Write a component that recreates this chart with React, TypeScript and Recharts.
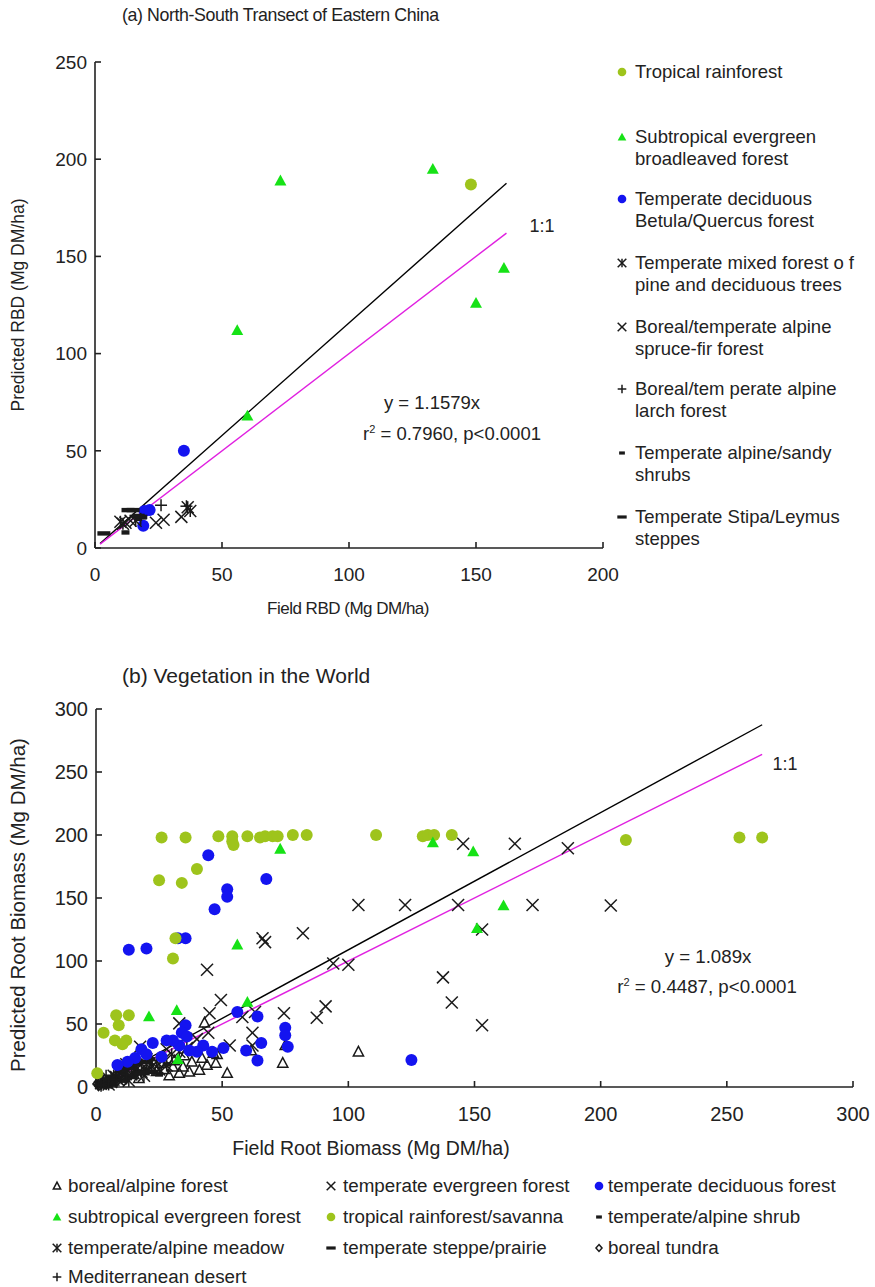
import React from "react";
import { ScatterChart, Scatter, XAxis, YAxis, ReferenceLine } from "recharts";

const FONT = '"Liberation Sans", Arial, Helvetica, sans-serif';
const YG = "#9ec41c";
const GREEN = "#16e216";
const BLUE = "#1414f0";
const MAGENTA = "#e020e0";
const INK = "#1a1a1a";

// ---- panel (a): North-South Transect of Eastern China ----
const aTicksX = [0, 50, 100, 150, 200];
const aTicksY = [0, 50, 100, 150, 200, 250];
const aTropical = [{ x: 148, y: 187 }];
const aSubtropical = [
  { x: 56, y: 112 }, { x: 60, y: 68 }, { x: 73, y: 189 },
  { x: 133, y: 195 }, { x: 150, y: 126 }, { x: 161, y: 144 },
];
const aDeciduous = [{ x: 35, y: 50 }, { x: 21.5, y: 19.5 }, { x: 19.5, y: 19 }, { x: 19, y: 11.5 }];
const aMixed = [{ x: 36.5, y: 21 }, { x: 37.5, y: 19 }, { x: 10, y: 13.5 }, { x: 11, y: 12.5 }, { x: 16, y: 14 }];
const aSpruce = [{ x: 24, y: 13 }, { x: 27, y: 14.5 }, { x: 34, y: 16 }, { x: 12, y: 13 }, { x: 14, y: 14 }];
const aLarch = [{ x: 26, y: 22 }, { x: 36, y: 21.5 }, { x: 18, y: 15 }];
const aShrub = [{ x: 12, y: 8 }, { x: 17, y: 15 }, { x: 19, y: 16 }];
const aSteppe = [{ x: 3.5, y: 7.5 }, { x: 13, y: 19.5 }, { x: 15, y: 19.5 }, { x: 17, y: 16.5 }];
const aFit = [{ x: 2, y: 2.3 }, { x: 162, y: 187.6 }];
const aOneToOne = [{ x: 2, y: 2 }, { x: 162, y: 162 }];

// ---- panel (b): Vegetation in the World ----
const bTicksX = [0, 50, 100, 150, 200, 250, 300];
const bTicksY = [0, 50, 100, 150, 200, 250, 300];
const bTropical = [
  { x: 0.5, y: 11 }, { x: 3, y: 43 }, { x: 8, y: 57 }, { x: 13, y: 57 }, { x: 9, y: 49 },
  { x: 7.5, y: 37 }, { x: 12, y: 37 }, { x: 10.5, y: 34 }, { x: 30.5, y: 102 }, { x: 31.5, y: 118 },
  { x: 25, y: 164 }, { x: 34, y: 162 }, { x: 40, y: 173 }, { x: 26, y: 198 }, { x: 35.5, y: 198 },
  { x: 48.5, y: 199 }, { x: 54, y: 199 }, { x: 54, y: 195 }, { x: 54.5, y: 192 }, { x: 60, y: 199 },
  { x: 65, y: 198 }, { x: 67, y: 199 }, { x: 70, y: 199 }, { x: 72, y: 199 }, { x: 78, y: 200 },
  { x: 83.5, y: 200 }, { x: 111, y: 200 }, { x: 129.5, y: 199 }, { x: 131.5, y: 200 }, { x: 134, y: 200 },
  { x: 141, y: 200 }, { x: 210, y: 196 }, { x: 255, y: 198 }, { x: 264, y: 198 },
];
const bSubtropical = [
  { x: 21, y: 56 }, { x: 32, y: 61 }, { x: 32.5, y: 22 }, { x: 56, y: 113 }, { x: 60, y: 67.5 },
  { x: 73, y: 189 }, { x: 133.5, y: 194 }, { x: 149.5, y: 187 }, { x: 151, y: 126 }, { x: 161.5, y: 144 },
];
const bDeciduous = [
  { x: 44.5, y: 184 }, { x: 67.5, y: 165 }, { x: 52, y: 157 }, { x: 52, y: 151 }, { x: 47, y: 141 },
  { x: 13, y: 109 }, { x: 20, y: 110 }, { x: 32.5, y: 118 }, { x: 35.5, y: 118 }, { x: 56, y: 59.5 },
  { x: 64, y: 56 }, { x: 75, y: 47 }, { x: 75, y: 41 }, { x: 76, y: 32 }, { x: 65.5, y: 35 },
  { x: 59.5, y: 29 }, { x: 64, y: 21 }, { x: 50.5, y: 31 }, { x: 46, y: 28 }, { x: 42.5, y: 33 },
  { x: 40, y: 28 }, { x: 37, y: 29 }, { x: 33, y: 33 }, { x: 35.5, y: 49 }, { x: 34, y: 43 },
  { x: 30.5, y: 37 }, { x: 28, y: 37 }, { x: 22.5, y: 35 }, { x: 26, y: 24 }, { x: 15.5, y: 23 },
  { x: 12.5, y: 20 }, { x: 8.5, y: 17.5 }, { x: 125, y: 21.5 }, { x: 36, y: 40 }, { x: 18, y: 30 },
  { x: 20, y: 26 },
];
const bEvergreen = [
  { x: 145.5, y: 193 }, { x: 166, y: 193 }, { x: 187, y: 189.5 }, { x: 104, y: 144.5 }, { x: 122.5, y: 144.5 },
  { x: 143.5, y: 144.5 }, { x: 173, y: 144.5 }, { x: 204, y: 144 }, { x: 153, y: 125 }, { x: 82, y: 122 },
  { x: 66, y: 118 }, { x: 67, y: 115 }, { x: 44, y: 93 }, { x: 94, y: 98 }, { x: 100, y: 97 },
  { x: 137.5, y: 87 }, { x: 141, y: 67 }, { x: 153, y: 49 }, { x: 91, y: 64 }, { x: 87.5, y: 55 },
  { x: 74.5, y: 58.5 }, { x: 49.5, y: 69 }, { x: 45, y: 58.5 }, { x: 63, y: 59.5 }, { x: 58, y: 55.5 },
  { x: 33, y: 50.5 }, { x: 62, y: 43 }, { x: 44.5, y: 43 }, { x: 53, y: 33 }, { x: 62, y: 33 },
  { x: 17.5, y: 32 }, { x: 40, y: 38 }, { x: 28, y: 30 }, { x: 12, y: 18 }, { x: 20, y: 22 },
];
const bBoreal = [
  { x: 104, y: 28 }, { x: 74, y: 19 }, { x: 75, y: 33 }, { x: 52, y: 11 }, { x: 43, y: 51 },
  { x: 46.5, y: 27 }, { x: 37, y: 12 }, { x: 41, y: 13.5 }, { x: 47.5, y: 19 }, { x: 61.5, y: 29 },
  { x: 44, y: 17.5 }, { x: 48, y: 26 }, { x: 34.5, y: 16 }, { x: 30.5, y: 16 }, { x: 27, y: 14 },
  { x: 24, y: 12.5 }, { x: 38, y: 20 }, { x: 42, y: 23 }, { x: 35, y: 25 }, { x: 31, y: 21 },
  { x: 26, y: 19 }, { x: 22, y: 15 }, { x: 19, y: 13 }, { x: 15, y: 10 }, { x: 11, y: 8 },
  { x: 7, y: 5 }, { x: 4, y: 3 }, { x: 17, y: 7 }, { x: 29, y: 9 }, { x: 33, y: 11 },
];
const bMeadow = [
  { x: 2, y: 3 }, { x: 4, y: 5 }, { x: 6, y: 4 }, { x: 8, y: 8 }, { x: 10, y: 7 },
  { x: 12, y: 12 }, { x: 14, y: 10 }, { x: 16, y: 14 }, { x: 18, y: 12 }, { x: 20, y: 18 },
  { x: 22, y: 16 }, { x: 24, y: 20 }, { x: 27, y: 22 }, { x: 30, y: 26 }, { x: 25, y: 14 },
  { x: 19, y: 9 }, { x: 15, y: 17 }, { x: 11, y: 13 }, { x: 7, y: 9 }, { x: 5, y: 2 },
  { x: 13, y: 5 }, { x: 33, y: 28 }, { x: 36, y: 31 }, { x: 28, y: 17 }, { x: 9, y: 15 },
];
const bShrub = [
  { x: 5, y: 8 }, { x: 10, y: 12 }, { x: 15, y: 15 }, { x: 20, y: 14 }, { x: 25, y: 10 },
  { x: 8, y: 17 }, { x: 18, y: 20 }, { x: 12, y: 6 }, { x: 28, y: 18 }, { x: 22, y: 22 },
];
const bSteppe = [
  { x: 2, y: 3 }, { x: 4, y: 6 }, { x: 7, y: 8 }, { x: 10, y: 13 }, { x: 13, y: 16 },
  { x: 16, y: 18 }, { x: 20, y: 20 }, { x: 6, y: 2 }, { x: 9, y: 5 }, { x: 14, y: 9 },
  { x: 11, y: 18 }, { x: 22, y: 12 }, { x: 17, y: 11 },
];
const bTundra = [
  { x: 1, y: 1 }, { x: 2, y: 2 }, { x: 3, y: 3 }, { x: 1, y: 4 }, { x: 4, y: 2 },
  { x: 5, y: 5 }, { x: 2, y: 6 }, { x: 6, y: 3 }, { x: 3, y: 7 }, { x: 7, y: 7 },
  { x: 8, y: 4 }, { x: 0.5, y: 2.5 }, { x: 9, y: 9 }, { x: 11, y: 5 },
];
const bDesert = [
  { x: 1, y: 2 }, { x: 2, y: 1 }, { x: 3, y: 4 }, { x: 5, y: 3 }, { x: 6, y: 7 },
  { x: 4, y: 9 }, { x: 8, y: 6 }, { x: 10, y: 10 }, { x: 12, y: 8 }, { x: 15, y: 12 },
];
const bFit = [{ x: 0, y: 0 }, { x: 264, y: 287.5 }];
const bOneToOne = [{ x: 0, y: 0 }, { x: 264, y: 264 }];

type Kind = "dot" | "tri" | "triOpen" | "x" | "star" | "plus" | "dashS" | "dashL" | "diamond";

const seriesA: { label: string[]; data: { x: number; y: number }[]; kind: Kind; color: string }[] = [
  { label: ["Tropical rainforest"], data: aTropical, kind: "dot", color: YG },
  { label: ["Subtropical evergreen", "broadleaved forest"], data: aSubtropical, kind: "tri", color: GREEN },
  { label: ["Temperate deciduous", "Betula/Quercus forest"], data: aDeciduous, kind: "dot", color: BLUE },
  { label: ["Temperate mixed forest o f", "pine and deciduous trees"], data: aMixed, kind: "star", color: INK },
  { label: ["Boreal/temperate alpine", "spruce-fir forest"], data: aSpruce, kind: "x", color: INK },
  { label: ["Boreal/tem perate alpine", "larch forest"], data: aLarch, kind: "plus", color: INK },
  { label: ["Temperate alpine/sandy", "shrubs"], data: aShrub, kind: "dashS", color: INK },
  { label: ["Temperate Stipa/Leymus", "steppes"], data: aSteppe, kind: "dashL", color: INK },
];
const legendRowsA = [72, 137, 199, 263, 327, 389, 453, 517];

const seriesB: { label: string; data: { x: number; y: number }[]; kind: Kind; color: string }[] = [
  { label: "boreal/alpine forest", data: bBoreal, kind: "triOpen", color: INK },
  { label: "temperate evergreen forest", data: bEvergreen, kind: "x", color: INK },
  { label: "temperate deciduous forest", data: bDeciduous, kind: "dot", color: BLUE },
  { label: "subtropical evergreen forest", data: bSubtropical, kind: "tri", color: GREEN },
  { label: "tropical rainforest/savanna", data: bTropical, kind: "dot", color: YG },
  { label: "temperate/alpine shrub", data: bShrub, kind: "dashS", color: INK },
  { label: "temperate/alpine meadow", data: bMeadow, kind: "star", color: INK },
  { label: "temperate steppe/prairie", data: bSteppe, kind: "dashL", color: INK },
  { label: "boreal tundra", data: bTundra, kind: "diamond", color: INK },
  { label: "Mediterranean desert", data: bDesert, kind: "plus", color: INK },
];
// black clutter first, coloured marks over it
const drawOrderB = [0, 6, 5, 7, 8, 9, 1, 2, 4, 3];
const legendColsB = [{ m: 57, t: 68 }, { m: 331, t: 343 }, { m: 599, t: 608 }];
const legendRowsB = [1186, 1217, 1248, 1277];

function Glyph({ kind, cx, cy, color, k = 1 }: { kind: Kind; cx: number; cy: number; color: string; k?: number }) {
  const s = 6 * k;
  const sw = 1.5;
  switch (kind) {
    case "dot":
      return <circle cx={cx} cy={cy} r={s} fill={color} />;
    case "tri":
      return <polygon points={`${cx},${cy - s} ${cx + s},${cy + s * 0.8} ${cx - s},${cy + s * 0.8}`} fill={color} />;
    case "triOpen":
      return (
        <polygon
          points={`${cx},${cy - s * 0.9} ${cx + s * 0.85},${cy + s * 0.7} ${cx - s * 0.85},${cy + s * 0.7}`}
          fill="none" stroke={color} strokeWidth={sw}
        />
      );
    case "x":
      return (
        <g stroke={color} strokeWidth={sw}>
          <line x1={cx - s} y1={cy - s} x2={cx + s} y2={cy + s} />
          <line x1={cx - s} y1={cy + s} x2={cx + s} y2={cy - s} />
        </g>
      );
    case "star":
      return (
        <g stroke={color} strokeWidth={sw}>
          <line x1={cx - s} y1={cy - s} x2={cx + s} y2={cy + s} />
          <line x1={cx - s} y1={cy + s} x2={cx + s} y2={cy - s} />
          <line x1={cx} y1={cy - s} x2={cx} y2={cy + s} />
        </g>
      );
    case "plus":
      return (
        <g stroke={color} strokeWidth={sw}>
          <line x1={cx - s} y1={cy} x2={cx + s} y2={cy} />
          <line x1={cx} y1={cy - s} x2={cx} y2={cy + s} />
        </g>
      );
    case "dashS":
      return <rect x={cx - 4 * k} y={cy - 2.2 * k} width={8 * k} height={4.4 * k} fill={color} />;
    case "dashL":
      return <rect x={cx - 6.5 * k} y={cy - 2.2 * k} width={13 * k} height={4.4 * k} fill={color} />;
    case "diamond":
      return (
        <polygon
          points={`${cx},${cy - s * 0.8} ${cx + s * 0.7},${cy} ${cx},${cy + s * 0.8} ${cx - s * 0.7},${cy}`}
          fill="none" stroke={color} strokeWidth={sw}
        />
      );
  }
  return null;
}

function Icon({ kind, color }: { kind: Kind; color: string }) {
  return (
    <svg width={16} height={16} style={{ display: "block" }}>
      <Glyph kind={kind} cx={8} cy={8} color={color} k={0.72} />
    </svg>
  );
}

const txt: React.CSSProperties = {
  position: "absolute",
  fontFamily: FONT,
  color: "#222",
  whiteSpace: "nowrap",
  lineHeight: "20px",
};

function At({ x, y, children, center, size = 18, ls = 0 }: { x: number; y: number; children: React.ReactNode; center?: boolean; size?: number; ls?: number }) {
  return (
    <div style={{ ...txt, left: x, top: y, fontSize: size, letterSpacing: ls, transform: center ? "translate(-50%,-50%)" : "translateY(-50%)" }}>
      {children}
    </div>
  );
}

function VLabel({ x, y, size, children }: { x: number; y: number; size: number; children: React.ReactNode }) {
  return (
    <div style={{ ...txt, left: x, top: y, fontSize: size, transform: "translate(-50%,-50%) rotate(-90deg)" }}>{children}</div>
  );
}

const tickA = { fill: "#222", fontSize: 19, fontFamily: FONT };
const tickB = { fill: "#222", fontSize: 20, fontFamily: FONT };
const axisStroke = { stroke: "#222", strokeWidth: 1.6 };
const sup = { fontSize: 11, verticalAlign: "7px" };

export default function App() {
  return (
    <div style={{ position: "absolute", left: 0, top: 0, width: 875, height: 1287, background: "#fff" }}>
      {/* (a) */}
      <div style={{ position: "absolute", left: 0, top: 0 }}>
        <ScatterChart width={875} height={640} margin={{ top: 62, right: 272, bottom: 62, left: 35 }}>
          <XAxis
            type="number" dataKey="x" domain={[0, 200]} ticks={aTicksX} height={30}
            tick={tickA} tickSize={-6} tickMargin={26} axisLine={axisStroke} tickLine={axisStroke}
          />
          <YAxis
            type="number" dataKey="y" domain={[0, 250]} ticks={aTicksY} width={60}
            tick={tickA} tickSize={-6} tickMargin={14} axisLine={axisStroke} tickLine={axisStroke}
          />
          {seriesA.map((s, i) => (
            <Scatter
              key={i} data={s.data} isAnimationActive={false}
              shape={(p: any) => <Glyph kind={s.kind} cx={p.cx} cy={p.cy} color={s.color} />}
            />
          ))}
          <ReferenceLine segment={aFit} stroke="#000" strokeWidth={1.4} />
          <ReferenceLine segment={aOneToOne} stroke={MAGENTA} strokeWidth={1.4} />
        </ScatterChart>
      </div>
      <At x={122} y={15} size={17.8} ls={-0.4}>(a) North-South Transect of Eastern China</At>
      <VLabel x={18} y={305} size={17.5}>Predicted RBD (Mg DM/ha)</VLabel>
      <At x={348} y={609} center size={17} ls={-0.5}>Field RBD (Mg DM/ha)</At>
      <At x={542} y={226} center>1:1</At>
      <At x={432} y={403} center size={18.5}>y = 1.1579x</At>
      <At x={452} y={431} center size={18.5}>
        r<sup style={sup}>2</sup> = 0.7960, p&lt;0.0001
      </At>
      {seriesA.map((s, i) => (
        <React.Fragment key={i}>
          <div style={{ position: "absolute", left: 614, top: legendRowsA[i] - 8 }}>
            <Icon kind={s.kind} color={s.color} />
          </div>
          {s.label.map((l, j) => (
            <At key={j} x={635} y={legendRowsA[i] + j * 22} size={18.5}>{l}</At>
          ))}
        </React.Fragment>
      ))}

      {/* (b) */}
      <div style={{ position: "absolute", left: 0, top: 640 }}>
        <ScatterChart width={875} height={520} margin={{ top: 69, right: 22, bottom: 43, left: 36 }}>
          <XAxis
            type="number" dataKey="x" domain={[0, 300]} ticks={bTicksX} height={30}
            tick={tickB} tickSize={-6} tickMargin={26} axisLine={axisStroke} tickLine={axisStroke}
          />
          <YAxis
            type="number" dataKey="y" domain={[0, 300]} ticks={bTicksY} width={60}
            tick={tickB} tickSize={-6} tickMargin={14} axisLine={axisStroke} tickLine={axisStroke}
          />
          {drawOrderB.map((idx) => {
            const s = seriesB[idx];
            return (
              <Scatter
                key={idx} data={s.data} isAnimationActive={false}
                shape={(p: any) => <Glyph kind={s.kind} cx={p.cx} cy={p.cy} color={s.color} />}
              />
            );
          })}
          <ReferenceLine segment={bFit} stroke="#000" strokeWidth={1.4} />
          <ReferenceLine segment={bOneToOne} stroke={MAGENTA} strokeWidth={1.4} />
        </ScatterChart>
      </div>
      <At x={122} y={676} size={21}>(b) Vegetation in the World</At>
      <VLabel x={18} y={905} size={20.5}>Predicted Root Biomass (Mg DM/ha)</VLabel>
      <At x={371} y={1148} center size={19.5}>Field Root Biomass (Mg DM/ha)</At>
      <At x={785} y={764} center>1:1</At>
      <At x={708} y={957} center size={18.7}>y = 1.089x</At>
      <At x={707} y={984} center size={18.7}>
        r<sup style={sup}>2</sup> = 0.4487, p&lt;0.0001
      </At>
      {seriesB.map((s, i) => {
        const col = legendColsB[i % 3];
        const row = legendRowsB[Math.floor(i / 3)];
        return (
          <React.Fragment key={i}>
            <div style={{ position: "absolute", left: col.m - 8, top: row - 8 }}>
              <Icon kind={s.kind} color={s.color} />
            </div>
            <At x={col.t} y={row} size={18.8}>{s.label}</At>
          </React.Fragment>
        );
      })}
    </div>
  );
}
